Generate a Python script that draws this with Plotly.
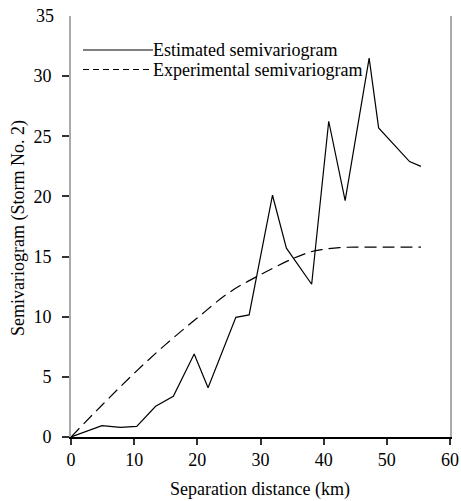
import plotly.graph_objects as go

# Estimated semivariogram (solid)
est_x = [0, 4.9, 7.8, 10.4, 13.4, 16.2, 19.5, 21.7, 26.1, 28.2, 31.9, 34.1, 38.1, 40.8, 43.4, 47.2, 48.7, 53.6, 55.4]
est_y = [0, 0.95, 0.8, 0.88, 2.55, 3.38, 6.9, 4.1, 9.95, 10.15, 20.1, 15.7, 12.7, 26.25, 19.65, 31.5, 25.7, 22.9, 22.5]

# Experimental semivariogram (dashed)
exp_x = [0, 5, 10, 15, 20, 25, 30, 35, 38, 40, 42.5, 45, 50, 55.4]
exp_y = [0, 2.7, 5.3, 7.7, 9.9, 12.0, 13.5, 14.8, 15.4, 15.6, 15.75, 15.78, 15.78, 15.78]

legend_labels = ["Estimated semivariogram", "Experimental semivariogram"]
x_title = "Separation distance (km)"
y_title = "Semivariogram (Storm No. 2)"
x_ticks = [0, 10, 20, 30, 40, 50, 60]
y_ticks = [0, 5, 10, 15, 20, 25, 30, 35]

FONT = "Liberation Serif, Times New Roman, serif"

# plot area in screen px: x 71..450, y 16..437
L, T, W, H = 71, 16, 379, 421
FW, FH = 461, 501

fig = go.Figure()
fig.add_trace(go.Scatter(x=est_x, y=est_y, mode="lines", name=legend_labels[0],
                         line=dict(color="black", width=1.2), showlegend=False))
fig.add_trace(go.Scatter(x=exp_x, y=exp_y, mode="lines", name=legend_labels[1],
                         line=dict(color="black", width=1.2, dash="12px,6px", shape="spline"),
                         showlegend=False))

# manual legend
for i, (lab, dash) in enumerate(zip(legend_labels, ["solid", "6px,4px"])):
    yy = 50 + i * 19.5
    fig.add_shape(type="line", xref="paper", yref="paper",
                  x0=(83 - L) / W, x1=(153 - L) / W,
                  y0=1 - (yy - T) / H, y1=1 - (yy - T) / H,
                  line=dict(color="black", width=1.2, dash=dash))
    fig.add_annotation(xref="paper", yref="paper", x=(153 - L) / W, y=1 - (yy - T) / H,
                       text=lab, showarrow=False, xanchor="left", yanchor="middle",
                       xshift=-2, font=dict(family=FONT, size=18, color="black"))

# axis titles
fig.add_annotation(xref="paper", yref="paper", x=(260 - L) / W, y=1 - (489 - T) / H,
                   text=x_title, showarrow=False, xanchor="center", yanchor="middle",
                   font=dict(family=FONT, size=18, color="black"))
fig.add_annotation(xref="paper", yref="paper", x=(18 - L) / W, y=1 - (228 - T) / H,
                   text=y_title, showarrow=False, xanchor="center", yanchor="middle",
                   textangle=-90, font=dict(family=FONT, size=18, color="black"))

# top y label "35" has no tick mark in the reference
fig.add_annotation(xref="paper", yref="y", x=0, y=y_ticks[-1], text=str(y_ticks[-1]),
                   showarrow=False, xanchor="right", yanchor="middle", xshift=-15,
                   font=dict(family=FONT, size=18, color="black"))

fig.update_layout(
    width=FW, height=FH,
    margin=dict(l=L, r=FW - L - W, t=T, b=FH - T - H),
    paper_bgcolor="white", plot_bgcolor="white",
    font=dict(family=FONT, size=18, color="black"),
    xaxis=dict(range=[0, 60], tickvals=x_ticks, automargin=False,
               showgrid=False, zeroline=False, showline=True, linecolor="black", linewidth=1.5,
               ticks="outside", ticklen=6, tickcolor="#333", tickwidth=1.5,
               tickfont=dict(family=FONT, size=18)),
    yaxis=dict(range=[0, 35], tickvals=y_ticks[:-1], automargin=False,
               showgrid=False, zeroline=False, showline=True, linecolor="#aaaaaa", linewidth=2,
               mirror=True, ticks="outside", ticklen=7, tickcolor="#333", tickwidth=1.5,
               ticklabelstandoff=7,
               tickfont=dict(family=FONT, size=18)),
)

fig.write_html("out.html", config={"displayModeBar": False},
               post_script="document.body.style.margin='0';document.body.style.overflow='hidden';")
